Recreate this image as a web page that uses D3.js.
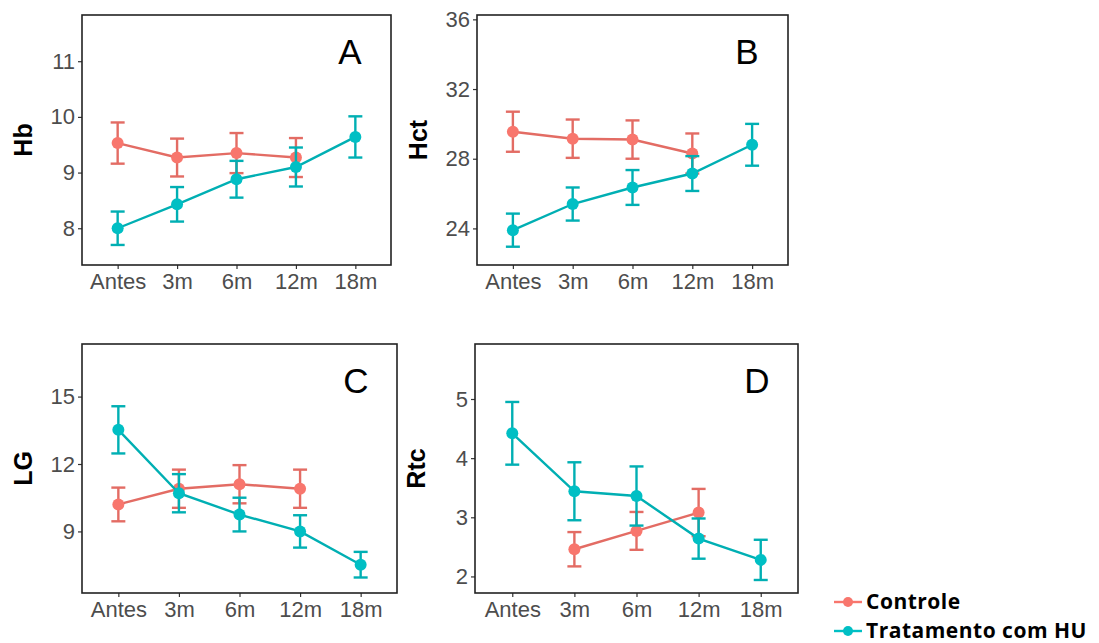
<!DOCTYPE html>
<html lang="pt">
<head>
    <meta charset="UTF-8">
    <script src="https://cdn.jsdelivr.net/npm/d3@7"></script>
    <title>Hb, Hct, LG, Rtc</title>
    <style>
        body { margin: 0; background: #fff; }
        text { font-family: "Liberation Sans", Arial, sans-serif; }
    </style>
</head>
<body>
    <svg width="1099" height="643"></svg>
    <script>
        // categorias do eixo x
        const timepoints = ["Antes", "3m", "6m", "12m", "18m"];
        const seriesNames = ["Controle", "Tratamento com HU"];
        const seriesColors = ["#F8766D", "#00BFC4"];

        // A - Hb (média e semi-amplitude da barra de erro)
        const hbControle = [9.53, 9.27, 9.35, 9.27, null];
        const hbControleErr = [0.37, 0.34, 0.36, 0.35, null];
        const hbHU = [8.0, 8.43, 8.88, 9.1, 9.64];
        const hbHUErr = [0.3, 0.31, 0.33, 0.35, 0.37];
        const hbTicks = [8, 9, 10, 11];

        // B - Hct
        const hctControle = [29.55, 29.15, 29.1, 28.3, null];
        const hctControleErr = [1.15, 1.1, 1.1, 1.15, null];
        const hctHU = [23.9, 25.4, 26.35, 27.15, 28.8];
        const hctHUErr = [0.95, 0.95, 1.0, 1.0, 1.2];
        const hctTicks = [24, 28, 32, 36];

        // C - LG
        const lgControle = [10.2, 10.9, 11.1, 10.9, null];
        const lgControleErr = [0.75, 0.85, 0.85, 0.85, null];
        const lgHU = [13.52, 10.7, 9.75, 9.0, 7.52];
        const lgHUErr = [1.05, 0.85, 0.75, 0.72, 0.57];
        const lgTicks = [9, 12, 15];

        // D - Rtc
        const rtcControle = [null, 2.46, 2.77, 3.08, null];
        const rtcControleErr = [null, 0.29, 0.32, 0.4, null];
        const rtcHU = [4.42, 3.44, 3.36, 2.64, 2.28];
        const rtcHUErr = [0.53, 0.49, 0.5, 0.34, 0.34];
        const rtcTicks = [2, 3, 4, 5];

        const panels = [
            { letter: "A", title: "Hb", box: [82, 15, 391, 265], domain: [7.34, 11.83], ticks: hbTicks,
              series: [[hbControle, hbControleErr], [hbHU, hbHUErr]] },
            { letter: "B", title: "Hct", box: [477, 15, 788, 265], domain: [21.9, 36.25], ticks: hctTicks,
              series: [[hctControle, hctControleErr], [hctHU, hctHUErr]] },
            { letter: "C", title: "LG", box: [82, 344, 397, 593], domain: [6.26, 17.34], ticks: lgTicks,
              series: [[lgControle, lgControleErr], [lgHU, lgHUErr]] },
            { letter: "D", title: "Rtc", box: [475, 344, 798, 593], domain: [1.72, 5.93], ticks: rtcTicks,
              series: [[rtcControle, rtcControleErr], [rtcHU, rtcHUErr]] }
        ];

        const svg = d3.select('svg');

        panels.forEach(p => {
            const [x0, y0, x1, y1] = p.box;
            const x = d3.scalePoint().domain(timepoints).range([x0, x1]).padding(0.6);
            const y = d3.scaleLinear().domain(p.domain).range([y1, y0]);
            const g = svg.append('g');

            // eixos
            const yAxis = g.append('g').attr('transform', `translate(${x0},0)`)
                .call(d3.axisLeft(y).tickValues(p.ticks).tickFormat(d3.format('d')).tickSize(4).tickPadding(3));
            const xAxis = g.append('g').attr('transform', `translate(0,${y1})`)
                .call(d3.axisBottom(x).tickSize(4).tickPadding(4));
            [yAxis, xAxis].forEach(a => {
                a.select('.domain').remove();
                a.selectAll('.tick line').attr('stroke', '#333').attr('stroke-width', 1.2);
                a.selectAll('.tick text').attr('fill', '#4D4D4D')
                    .style('font-size', '22px').style('font-family', '"Liberation Sans", Arial, sans-serif');
            });

            g.append('rect').attr('x', x0).attr('y', y0).attr('width', x1 - x0).attr('height', y1 - y0)
                .attr('fill', 'none').attr('stroke', '#222').attr('stroke-width', 1.6);

            // título do eixo y
            g.append('text')
                .attr('transform', `translate(${x0 - 50},${(y0 + y1) / 2}) rotate(-90)`)
                .attr('text-anchor', 'middle').attr('font-weight', 'bold').attr('font-size', 25)
                .text(p.title);

            // letra do painel
            g.append('text').attr('x', x1 - 41).attr('y', y0 + 49)
                .attr('text-anchor', 'middle').attr('font-size', 35).text(p.letter);

            p.series.forEach((s, si) => {
                const [means, errs] = s;
                const col = seriesColors[si];
                const lineCol = d3.color(col).darker(0.25).formatHex();
                const pts = timepoints.map((t, i) => ({ t, m: means[i], e: errs[i] })).filter(d => d.m != null);
                const sg = g.append('g');

                sg.selectAll('line.bar').data(pts).join('line').attr('class', 'bar')
                    .attr('x1', d => x(d.t)).attr('x2', d => x(d.t))
                    .attr('y1', d => y(d.m - d.e)).attr('y2', d => y(d.m + d.e))
                    .attr('stroke', lineCol).attr('stroke-width', 2.4);
                [-1, 1].forEach(sign => {
                    sg.selectAll(null).data(pts).join('line')
                        .attr('x1', d => x(d.t) - 7).attr('x2', d => x(d.t) + 7)
                        .attr('y1', d => y(d.m + sign * d.e)).attr('y2', d => y(d.m + sign * d.e))
                        .attr('stroke', lineCol).attr('stroke-width', 2.4);
                });

                sg.append('path').datum(pts)
                    .attr('d', d3.line().x(d => x(d.t)).y(d => y(d.m)))
                    .attr('fill', 'none').attr('stroke', lineCol).attr('stroke-width', 2.4);

                sg.selectAll('circle').data(pts).join('circle')
                    .attr('cx', d => x(d.t)).attr('cy', d => y(d.m)).attr('r', 6)
                    .attr('fill', col);
            });
        });

        // legenda
        const legend = svg.append('g');
        seriesNames.forEach((name, i) => {
            const ly = 602 + i * 29;
            legend.append('line').attr('x1', 834).attr('x2', 862).attr('y1', ly).attr('y2', ly)
                .attr('stroke', seriesColors[i]).attr('stroke-width', 2.4);
            legend.append('circle').attr('cx', 848).attr('cy', ly).attr('r', 5).attr('fill', seriesColors[i]);
            legend.append('text').attr('x', 866).attr('y', ly + 7)
                .attr('font-weight', 'bold').attr('font-size', 21)
                .attr('letter-spacing', 0.5)
                .style('font-family', '"Open Sans", sans-serif')
                .text(name);
        });
    </script>
</body>
</html>
